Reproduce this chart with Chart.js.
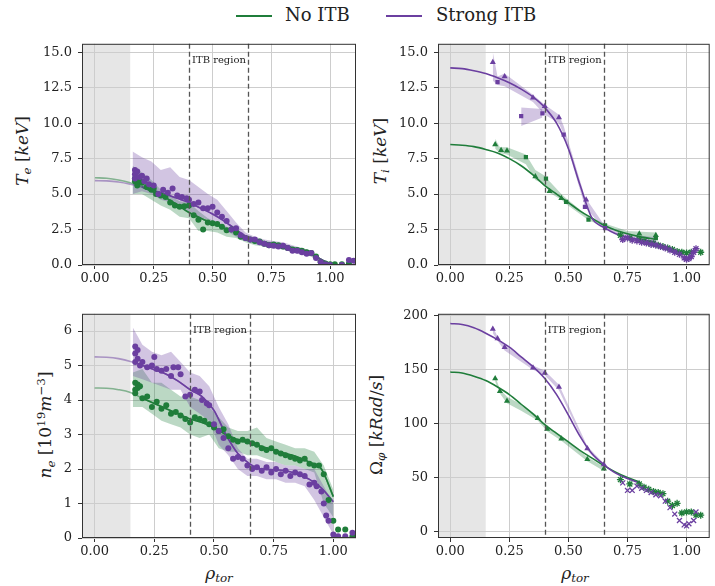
<!DOCTYPE html>
<html lang="en">
<head>
<meta charset="UTF-8">
<title>Profiles with and without ITB</title>
<script src="https://cdn.jsdelivr.net/npm/chart.js"></script>
<style>
    body { margin: 0; width: 715px; height: 586px; background: #fff; position: relative; overflow: hidden; font-family: 'DejaVu Serif', serif; color: #222; }
    .panel { position: absolute; }
    .lab { position: absolute; white-space: nowrap; font-size: 17px; transform: translate(-50%, -50%); }
    .lab.rot { transform: translate(-50%, -50%) rotate(-90deg); }
    .lab sub { font-size: 70%; vertical-align: -0.3em; }
    .lab sup { font-size: 70%; vertical-align: 0.55em; }
    .leg-line { position: absolute; height: 2px; width: 36px; top: 15px; }
    .leg-text { position: absolute; top: 4px; font-size: 18px; }
</style>
</head>
<body>
    <!-- legend -->
    <div class="leg-line" style="left:236px; background:#1f7d3a"></div>
    <div class="leg-text" style="left:285px">No ITB</div>
    <div class="leg-line" style="left:386px; background:#6b3fa0"></div>
    <div class="leg-text" style="left:436px">Strong ITB</div>

    <!-- axis titles -->
    <div class="lab rot" style="left:23px; top:151px"><i>T</i><sub><i>e</i></sub>&nbsp;[<i>keV</i>]</div>
    <div class="lab rot" style="left:381px; top:151px"><i>T</i><sub><i>i</i></sub>&nbsp;[<i>keV</i>]</div>
    <div class="lab rot" style="left:46px; top:425px"><i>n</i><sub><i>e</i></sub>&nbsp;[10<sup>19</sup><i>m</i><sup>−3</sup>]</div>
    <div class="lab rot" style="left:377px; top:425px">Ω<sub><i>φ</i></sub>&nbsp;[<i>kRad</i>/<i>s</i>]</div>
    <div class="lab" style="left:219px; top:574px"><i>ρ</i><sub><i>tor</i></sub></div>
    <div class="lab" style="left:575px; top:574px"><i>ρ</i><sub><i>tor</i></sub></div>

    <script>
        const xTicks = [0, 0.25, 0.5, 0.75, 1.0];
        const tempTicks = [0, 2.5, 5, 7.5, 10, 12.5, 15];
        const denTicks = [0, 1, 2, 3, 4, 5, 6];
        const rotTicks = [0, 50, 100, 150, 200];
        const shadeEnd = 0.15;
        const itbEdges = [0.4, 0.65];

        // electron temperature
        const teFitX = [0, 0.05, 0.1, 0.15, 0.2, 0.25, 0.3, 0.35, 0.4, 0.45, 0.5, 0.55, 0.6, 0.65, 0.7, 0.75, 0.8, 0.85, 0.9, 0.95, 1.0];
        const teFitGreen = [6.15, 6.12, 6.0, 5.8, 5.5, 5.15, 4.75, 4.25, 3.7, 3.3, 2.95, 2.6, 2.3, 1.95, 1.7, 1.5, 1.35, 1.15, 0.9, 0.5, 0.05];
        const teFitPurple = [5.95, 5.93, 5.85, 5.7, 5.5, 5.25, 5.0, 4.7, 4.4, 4.0, 3.6, 3.1, 2.5, 1.95, 1.65, 1.5, 1.35, 1.15, 0.9, 0.5, 0.05];
        const teGreenX = [0.17, 0.17, 0.18, 0.19, 0.2, 0.22, 0.24, 0.25, 0.26, 0.28, 0.3, 0.32, 0.34, 0.36, 0.38, 0.4, 0.42, 0.44, 0.46, 0.48, 0.5, 0.52, 0.54, 0.56, 0.58, 0.6, 0.62, 0.64, 0.66, 0.68, 0.7, 0.72, 0.74, 0.76, 0.78, 0.8, 0.82, 0.84, 0.86, 0.88, 0.9, 0.92, 0.94, 0.96, 0.98, 1.0, 1.02, 1.05, 1.08];
        const teGreenY = [5.9, 6.1, 5.6, 5.9, 5.8, 5.5, 5.3, 5.4, 5.0, 4.9, 4.8, 4.4, 4.2, 4.1, 4.15, 4.2, 3.5, 3.2, 2.5, 3.0, 2.95, 2.9, 2.7, 2.45, 2.5, 2.3, 2.0, 1.9, 1.8, 1.7, 1.65, 1.5, 1.4, 1.45, 1.4, 1.3, 1.2, 1.1, 1.05, 1.0, 0.9, 0.85, 0.6, 0.2, 0.1, 0.05, 0.05, 0.05, 0.1];
        const tePurpleX = [0.17, 0.17, 0.17, 0.18, 0.19, 0.2, 0.21, 0.22, 0.23, 0.25, 0.27, 0.29, 0.31, 0.33, 0.35, 0.37, 0.39, 0.4, 0.42, 0.44, 0.46, 0.48, 0.5, 0.52, 0.54, 0.56, 0.58, 0.6, 0.62, 0.64, 0.66, 0.68, 0.7, 0.72, 0.74, 0.76, 0.78, 0.8, 0.82, 0.84, 0.86, 0.88, 0.9, 0.92, 0.94, 0.96, 0.98, 1.0, 1.05, 1.08, 1.1];
        const tePurpleY = [6.7, 6.4, 6.1, 6.6, 6.2, 6.3, 5.9, 6.1, 5.7, 5.6, 5.0, 5.3, 5.1, 5.4, 4.9, 4.8, 4.7, 4.6, 4.3, 4.4, 4.0, 4.0, 4.1, 3.7, 3.4, 3.1, 2.5, 2.6, 2.1, 1.9, 1.8, 1.8, 1.6, 1.5, 1.4, 1.35, 1.3, 1.35, 1.2, 1.0, 1.0, 0.9, 0.8, 0.85, 0.5, 0.2, 0.05, 0.0, 0.0, 0.35, 0.3];
        const teBandX = [0.16, 0.2, 0.24, 0.28, 0.32, 0.36, 0.4, 0.44, 0.48, 0.52, 0.56, 0.6, 0.64, 0.68, 0.72, 0.76, 0.8, 0.84, 0.88, 0.92, 0.96, 1.0];
        const teGreenLo = [5.0, 5.0, 4.6, 4.2, 3.9, 3.4, 3.3, 2.4, 2.4, 2.3, 2.0, 1.9, 1.6, 1.4, 1.3, 1.2, 1.1, 0.9, 0.8, 0.6, 0.05, 0.0];
        const teGreenHi = [7.0, 6.5, 6.0, 5.3, 4.9, 4.5, 4.4, 3.8, 3.3, 3.0, 2.7, 2.4, 2.1, 1.9, 1.7, 1.6, 1.5, 1.3, 1.2, 1.0, 0.4, 0.1];
        const tePurpleLo = [5.0, 5.2, 5.0, 4.6, 4.4, 4.0, 3.8, 3.4, 3.2, 3.0, 2.4, 2.0, 1.7, 1.5, 1.3, 1.2, 1.1, 0.9, 0.7, 0.6, 0.05, 0.0];
        const tePurpleHi = [8.0, 7.6, 7.3, 6.7, 6.9, 6.2, 6.0, 5.5, 5.0, 4.6, 3.8, 3.0, 2.3, 2.0, 1.8, 1.7, 1.6, 1.4, 1.2, 1.0, 0.4, 0.1];

        // ion temperature
        const tiFitX = [0, 0.05, 0.1, 0.15, 0.2, 0.25, 0.3, 0.35, 0.4, 0.45, 0.5, 0.55, 0.6, 0.65, 0.7, 0.75, 0.8, 0.87];
        const tiFitGreen = [8.5, 8.45, 8.35, 8.15, 7.9, 7.5, 7.0, 6.35, 5.6, 5.0, 4.4, 3.8, 3.3, 2.8, 2.45, 2.2, 2.0, 1.8];
        const tiFitPurple = [13.9, 13.85, 13.7, 13.5, 13.2, 12.85, 12.4, 11.85, 11.1, 10.0, 8.2, 5.6, 3.3, 2.65, 2.2, 1.95, 1.8, 1.65];
        const tiPurpleTriX = [0.18, 0.23, 0.35, 0.4, 0.46, 0.575];
        const tiPurpleTriY = [14.3, 13.3, 11.8, 11.2, 10.4, 4.6];
        const tiPurpleSqX = [0.2, 0.3, 0.39, 0.48, 0.57, 0.655];
        const tiPurpleSqY = [12.9, 10.5, 10.7, 9.2, 4.1, 2.6];
        const tiGreenTriX = [0.19, 0.215, 0.24, 0.36, 0.42, 0.47, 0.8, 0.87];
        const tiGreenTriY = [8.5, 8.1, 8.05, 6.25, 5.2, 4.7, 2.2, 2.1];
        const tiGreenSqX = [0.32, 0.405, 0.49, 0.585, 0.655, 0.87];
        const tiGreenSqY = [7.6, 6.1, 4.45, 3.2, 2.8, 1.9];
        const tiGreenStarX = [0.72, 0.76, 0.8, 0.82, 0.84, 0.86, 0.88, 0.9, 0.92, 0.94, 0.96, 0.98, 1.0, 1.02, 1.06];
        const tiGreenStarY = [2.1, 1.9, 1.8, 1.7, 1.55, 1.5, 1.4, 1.3, 1.2, 1.1, 0.95, 0.9, 0.85, 0.9, 0.9];
        const tiPurpleStarX = [0.73, 0.75, 0.77, 0.79, 0.81, 0.83, 0.85, 0.87, 0.89, 0.91, 0.93, 0.95, 0.97, 0.99, 1.0, 1.01, 1.02, 1.03, 1.04];
        const tiPurpleStarY = [1.8, 1.9, 1.75, 1.7, 1.6, 1.55, 1.45, 1.4, 1.3, 1.2, 1.05, 0.9, 0.75, 0.5, 0.4, 0.45, 0.6, 0.9, 1.15];
        const tiPurpleBandX = [0.18, 0.2, 0.23, 0.35, 0.4, 0.46, 0.48, 0.57, 0.65, 0.75, 0.87];
        const tiPurpleLo = [13.0, 12.7, 12.6, 11.5, 10.6, 10.0, 9.2, 4.1, 2.55, 1.9, 1.6];
        const tiPurpleHi = [15.0, 13.3, 13.5, 12.0, 11.3, 10.6, 9.8, 4.8, 2.85, 2.15, 1.95];
        const tiPurpleBoxX = [0.3, 0.39];
        const tiPurpleBoxLo = [9.8, 10.4];
        const tiPurpleBoxHi = [11.1, 11.0];
        const tiGreenBandX = [0.19, 0.21, 0.24, 0.32, 0.36, 0.4, 0.42, 0.47, 0.49, 0.59, 0.66, 0.75, 0.87];
        const tiGreenLo = [8.2, 7.9, 7.8, 7.1, 6.0, 5.7, 5.1, 4.6, 4.3, 3.1, 2.7, 2.1, 1.8];
        const tiGreenHi = [8.9, 8.3, 8.3, 7.8, 6.7, 6.3, 5.9, 5.0, 4.7, 3.35, 2.9, 2.4, 2.3];

        // electron density
        const neFitX = [0, 0.05, 0.1, 0.15, 0.2, 0.25, 0.3, 0.35, 0.4, 0.45, 0.5, 0.55, 0.6, 0.65, 0.7, 0.75, 0.8, 0.85, 0.9, 0.95, 1.0];
        const neFitGreen = [4.35, 4.34, 4.3, 4.22, 4.05, 3.9, 3.75, 3.6, 3.45, 3.35, 3.2, 3.0, 2.85, 2.75, 2.65, 2.55, 2.45, 2.35, 2.2, 2.0, 1.2];
        const neFitPurple = [5.25, 5.24, 5.2, 5.12, 5.0, 4.88, 4.75, 4.55, 4.3, 4.1, 3.7, 3.0, 2.45, 2.15, 2.0, 1.98, 1.95, 1.85, 1.7, 1.45, 1.05];
        const nePurpleX = [0.17, 0.17, 0.17, 0.18, 0.18, 0.19, 0.2, 0.22, 0.24, 0.25, 0.26, 0.28, 0.3, 0.32, 0.33, 0.35, 0.36, 0.38, 0.4, 0.42, 0.44, 0.45, 0.47, 0.48, 0.5, 0.52, 0.54, 0.56, 0.58, 0.6, 0.62, 0.64, 0.66, 0.68, 0.7, 0.72, 0.74, 0.76, 0.78, 0.8, 0.82, 0.84, 0.86, 0.88, 0.9, 0.92, 0.93, 0.95, 0.96, 0.97, 0.98, 1.0, 1.02, 1.05, 1.08];
        const nePurpleY = [5.55, 5.35, 5.1, 5.45, 5.2, 5.0, 5.1, 4.95, 5.0, 5.25, 4.9, 4.85, 4.9, 4.7, 4.95, 4.95, 4.75, 4.1, 4.15, 4.3, 4.25, 4.0, 3.9, 3.85, 3.3, 3.1, 2.9, 2.6, 2.3, 2.35, 2.3, 2.1, 2.0, 2.05, 1.95, 2.05, 1.9, 2.0, 1.85, 1.95, 1.8, 1.9, 1.85, 1.8, 1.55, 1.6, 1.5, 1.35, 1.0, 0.65, 0.5, 0.1, 0.05, 0.05, 0.15];
        const neGreenX = [0.17, 0.17, 0.17, 0.18, 0.18, 0.19, 0.2, 0.22, 0.24, 0.26, 0.28, 0.3, 0.32, 0.34, 0.36, 0.38, 0.4, 0.42, 0.44, 0.46, 0.48, 0.5, 0.52, 0.54, 0.56, 0.58, 0.6, 0.62, 0.64, 0.66, 0.68, 0.7, 0.72, 0.74, 0.76, 0.78, 0.8, 0.82, 0.84, 0.86, 0.88, 0.9, 0.92, 0.94, 0.96, 0.98, 1.0, 1.02, 1.05, 1.08];
        const neGreenY = [4.5, 4.3, 4.2, 4.45, 4.35, 4.4, 4.05, 4.1, 3.8, 3.95, 3.75, 3.85, 3.6, 3.65, 3.55, 3.45, 3.35, 3.5, 3.45, 3.4, 3.3, 3.2, 3.1, 3.15, 2.95, 2.85, 2.8, 2.85, 2.8, 2.75, 2.7, 2.6, 2.55, 2.6, 2.5, 2.45, 2.4, 2.35, 2.3, 2.25, 2.3, 2.15, 2.1, 2.1, 1.85, 1.1, 0.5, 0.25, 0.25, 0.05];
        const neBandX = [0.16, 0.2, 0.24, 0.28, 0.32, 0.36, 0.4, 0.44, 0.48, 0.52, 0.56, 0.6, 0.64, 0.68, 0.72, 0.76, 0.8, 0.84, 0.88, 0.92, 0.96, 1.0];
        const nePurpleLo = [4.7, 4.6, 4.5, 4.4, 4.3, 4.3, 3.8, 3.6, 3.4, 2.7, 2.4, 2.0, 1.8, 1.8, 1.7, 1.7, 1.6, 1.6, 1.5, 1.1, 0.6, 0.1];
        const nePurpleHi = [6.1, 5.6, 5.4, 5.3, 5.4, 5.1, 4.8, 4.7, 4.4, 3.8, 3.3, 2.6, 2.3, 2.3, 2.2, 2.2, 2.1, 2.1, 2.0, 2.0, 1.5, 1.0];
        const neGreenLo = [3.8, 3.8, 3.6, 3.4, 3.3, 3.2, 3.0, 2.9, 3.0, 2.6, 2.5, 2.5, 2.4, 2.4, 2.3, 2.2, 2.1, 2.1, 2.0, 1.9, 1.0, 0.6];
        const neGreenHi = [4.8, 4.9, 4.5, 4.5, 4.3, 4.1, 4.1, 4.0, 3.8, 3.5, 3.2, 3.1, 3.1, 3.2, 2.9, 2.8, 2.7, 2.6, 2.6, 2.5, 2.1, 1.4];

        // toroidal rotation
        const omFitX = [0, 0.05, 0.1, 0.15, 0.2, 0.25, 0.3, 0.35, 0.4, 0.45, 0.5, 0.55, 0.6, 0.65, 0.7, 0.75, 0.8];
        const omFitPurple = [193, 192, 189, 184, 178, 171, 162, 153, 142, 127, 108, 88, 72, 62, 54, 49, 45];
        const omFitGreen = [148, 147, 144, 140, 134, 127, 118, 109, 99, 91, 83, 75, 68, 61, 55, 50, 46];
        const omPurpleTriX = [0.18, 0.2, 0.23, 0.35, 0.4, 0.46, 0.58, 0.65];
        const omPurpleTriY = [188, 179, 171, 152, 147, 134, 77, 62];
        const omGreenTriX = [0.19, 0.21, 0.24, 0.37, 0.41, 0.47, 0.58, 0.65];
        const omGreenTriY = [142, 130, 121, 105, 95, 86, 67, 58];
        const omPurpleLo = [184, 177, 168, 150, 145, 131, 75, 60];
        const omPurpleHi = [190, 181, 173, 154, 149, 136, 79, 63];
        const omGreenBandX = [0.19, 0.21, 0.24, 0.3, 0.37, 0.41, 0.47, 0.58, 0.65];
        const omGreenLo = [139, 128, 119, 112, 103, 93, 84, 65, 56];
        const omGreenHi = [144, 132, 125, 118, 107, 97, 88, 69, 60];
        const omGreenStarX = [0.72, 0.76, 0.8, 0.82, 0.84, 0.86, 0.88, 0.9, 0.92, 0.94, 0.96, 0.98, 1.0, 1.02, 1.04, 1.06];
        const omGreenStarY = [48, 44, 44, 41, 39, 37, 36, 35, 28, 24, 26, 17, 18, 18, 15, 15];
        const omPurpleCrossX = [0.73, 0.75, 0.77, 0.79, 0.81, 0.83, 0.85, 0.87, 0.89, 0.91, 0.93, 0.95, 0.97, 0.99, 1.0, 1.01, 1.03, 1.04];
        const omPurpleCrossY = [45, 38, 38, 42, 40, 38, 36, 34, 33, 28, 22, 16, 10, 6, 5, 7, 10, 18];

        const GREEN = '#1f7d3a', PURPLE = '#6b3fa0';
        const GREEN_FILL = 'rgba(31,125,58,0.3)', PURPLE_FILL = 'rgba(107,63,160,0.3)';
        const GREEN_LIGHT = 'rgba(31,125,58,0.5)', PURPLE_LIGHT = 'rgba(107,63,160,0.5)';

        function pts(xs, ys) {
            return xs.map((x, i) => ({ x: x, y: ys[i] }));
        }

        function band(list, xs, lo, hi, fillColor) {
            list.push({ data: pts(xs, lo), borderWidth: 0, pointRadius: 0, fill: false, order: 3 });
            list.push({ data: pts(xs, hi), borderWidth: 0, pointRadius: 0, fill: '-1', backgroundColor: fillColor, order: 3 });
        }

        function fit(list, xs, ys, color, from) {
            const d = pts(xs, ys).filter(p => p.x >= (from || 0));
            list.push({ data: d, borderColor: color, borderWidth: 1.6, pointRadius: 0, fill: false, cubicInterpolationMode: 'monotone', order: 2 });
        }

        function marks(list, xs, ys, color, style, r) {
            const stroked = style === 'star' || style === 'crossRot';
            list.push({ data: pts(xs, ys), showLine: false, pointStyle: style, pointRadius: r,
                backgroundColor: color, borderColor: color, borderWidth: stroked ? 1.3 : 0, order: 1 });
        }

        const decor = {
            id: 'decor',
            beforeDraw(chart) {
                const { ctx, chartArea: a, scales: { x } } = chart;
                ctx.save();
                ctx.fillStyle = '#e6e6e6';
                ctx.fillRect(a.left, a.top, x.getPixelForValue(shadeEnd) - a.left, a.bottom - a.top);
                ctx.restore();
            },
            afterDatasetsDraw(chart) {
                const { ctx, chartArea: a, scales: { x } } = chart;
                ctx.save();
                ctx.strokeStyle = '#555';
                ctx.lineWidth = 1.3;
                ctx.setLineDash([5, 3]);
                itbEdges.forEach(v => {
                    const px = Math.round(x.getPixelForValue(v)) + 0.5;
                    ctx.beginPath();
                    ctx.moveTo(px, a.top);
                    ctx.lineTo(px, a.bottom);
                    ctx.stroke();
                });
                ctx.setLineDash([]);
                ctx.fillStyle = '#222';
                ctx.font = '10px "DejaVu Serif"';
                ctx.textBaseline = 'middle';
                ctx.fillText('ITB region', x.getPixelForValue(itbEdges[0]) + 3, a.top + 17);
                ctx.restore();
            },
            afterDraw(chart) {
                const { ctx, chartArea: a } = chart;
                ctx.save();
                ctx.strokeStyle = '#333';
                ctx.lineWidth = 1;
                ctx.strokeRect(a.left + 0.5, a.top + 0.5, a.right - a.left - 1, a.bottom - a.top - 1);
                ctx.restore();
            }
        };

        function panel(p) {
            const div = document.createElement('div');
            div.className = 'panel';
            div.style.left = p.left + 'px';
            div.style.top = p.top + 'px';
            const canvas = document.createElement('canvas');
            canvas.width = p.w;
            canvas.height = p.h;
            div.appendChild(canvas);
            document.body.appendChild(div);

            const tickFont = { family: 'DejaVu Serif', size: 13 };
            const grid = { color: '#cdcdcd', lineWidth: 1, tickColor: '#333', tickLength: 4 };

            new Chart(canvas, {
                type: 'line',
                data: { datasets: p.datasets },
                options: {
                    responsive: false,
                    animation: false,
                    events: [],
                    layout: { padding: { top: p.area.top, right: p.w - p.area.right, left: 0, bottom: 0 } },
                    plugins: { legend: { display: false }, tooltip: { enabled: false } },
                    scales: {
                        x: {
                            type: 'linear', min: p.xMin, max: p.xMax,
                            afterFit: s => { s.height = p.h - p.area.bottom; },
                            afterBuildTicks: s => { s.ticks = xTicks.map(v => ({ value: v })); },
                            ticks: { font: tickFont, color: '#222', padding: 2, maxRotation: 0, autoSkip: false,
                                callback: v => v.toFixed(2) },
                            grid: grid,
                            border: { display: false }
                        },
                        y: {
                            type: 'linear', min: p.yMin, max: p.yMax,
                            afterFit: s => { s.width = p.area.left; },
                            afterBuildTicks: s => { s.ticks = p.yTicks.map(v => ({ value: v })); },
                            ticks: { font: tickFont, color: '#222', padding: 6, autoSkip: false,
                                callback: v => v.toFixed(p.yDec) },
                            grid: grid,
                            border: { display: false }
                        }
                    }
                },
                plugins: [decor]
            });
        }

        // Te
        const teSets = [];
        marks(teSets, tePurpleX, tePurpleY, PURPLE, 'circle', 3);
        marks(teSets, teGreenX, teGreenY, GREEN, 'circle', 3);
        fit(teSets, teFitX, teFitPurple, PURPLE_LIGHT);
        fit(teSets, teFitX, teFitGreen, GREEN_LIGHT);
        fit(teSets, teFitX, teFitPurple, PURPLE, 0.16);
        fit(teSets, teFitX, teFitGreen, GREEN, 0.16);
        band(teSets, teBandX, tePurpleLo, tePurpleHi, PURPLE_FILL);
        band(teSets, teBandX, teGreenLo, teGreenHi, GREEN_FILL);

        // Ti
        const tiSets = [];
        marks(tiSets, tiPurpleTriX, tiPurpleTriY, PURPLE, 'triangle', 3.5);
        marks(tiSets, tiPurpleSqX, tiPurpleSqY, PURPLE, 'rect', 3);
        marks(tiSets, tiGreenTriX, tiGreenTriY, GREEN, 'triangle', 3.5);
        marks(tiSets, tiGreenSqX, tiGreenSqY, GREEN, 'rect', 3);
        marks(tiSets, tiPurpleStarX, tiPurpleStarY, PURPLE, 'star', 3.5);
        marks(tiSets, tiGreenStarX, tiGreenStarY, GREEN, 'star', 3.5);
        fit(tiSets, tiFitX, tiFitPurple, PURPLE);
        fit(tiSets, tiFitX, tiFitGreen, GREEN);
        band(tiSets, tiPurpleBandX, tiPurpleLo, tiPurpleHi, PURPLE_FILL);
        band(tiSets, tiPurpleBoxX, tiPurpleBoxLo, tiPurpleBoxHi, PURPLE_FILL);
        band(tiSets, tiGreenBandX, tiGreenLo, tiGreenHi, GREEN_FILL);

        // ne
        const neSets = [];
        marks(neSets, nePurpleX, nePurpleY, PURPLE, 'circle', 3);
        marks(neSets, neGreenX, neGreenY, GREEN, 'circle', 3);
        fit(neSets, neFitX, neFitPurple, PURPLE_LIGHT);
        fit(neSets, neFitX, neFitGreen, GREEN_LIGHT);
        fit(neSets, neFitX, neFitPurple, PURPLE, 0.16);
        fit(neSets, neFitX, neFitGreen, GREEN, 0.16);
        band(neSets, neBandX, nePurpleLo, nePurpleHi, PURPLE_FILL);
        band(neSets, neBandX, neGreenLo, neGreenHi, GREEN_FILL);

        // Omega
        const omSets = [];
        marks(omSets, omPurpleTriX, omPurpleTriY, PURPLE, 'triangle', 3.5);
        marks(omSets, omGreenTriX, omGreenTriY, GREEN, 'triangle', 3.5);
        marks(omSets, omPurpleCrossX, omPurpleCrossY, PURPLE, 'crossRot', 3.5);
        marks(omSets, omGreenStarX, omGreenStarY, GREEN, 'star', 3.5);
        fit(omSets, omFitX, omFitPurple, PURPLE);
        fit(omSets, omFitX, omFitGreen, GREEN);
        band(omSets, omPurpleTriX, omPurpleLo, omPurpleHi, PURPLE_FILL);
        band(omSets, omGreenBandX, omGreenLo, omGreenHi, GREEN_FILL);

        panel({ left: 0, top: 30, w: 360, h: 270, area: { left: 82, top: 7, right: 357, bottom: 235 },
            xMin: -0.055, xMax: 1.11, yMin: 0, yMax: 15.6, yTicks: tempTicks, yDec: 1, datasets: teSets });
        panel({ left: 360, top: 30, w: 355, h: 270, area: { left: 78, top: 7, right: 352, bottom: 235 },
            xMin: -0.052, xMax: 1.098, yMin: 0, yMax: 15.6, yTicks: tempTicks, yDec: 1, datasets: tiSets });
        panel({ left: 0, top: 300, w: 360, h: 260, area: { left: 82, top: 11, right: 356, bottom: 238 },
            xMin: -0.053, xMax: 1.095, yMin: 0, yMax: 6.5, yTicks: denTicks, yDec: 0, datasets: neSets });
        panel({ left: 360, top: 300, w: 355, h: 260, area: { left: 78, top: 11, right: 352, bottom: 238 },
            xMin: -0.052, xMax: 1.098, yMin: -6.2, yMax: 202, yTicks: rotTicks, yDec: 0, datasets: omSets });
    </script>
</body>
</html>
